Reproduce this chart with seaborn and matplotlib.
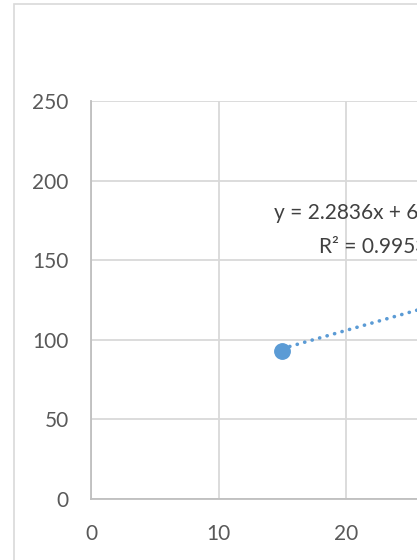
import matplotlib
matplotlib.use("Agg")
import matplotlib.pyplot as plt
import seaborn as sns
import numpy as np
import pandas as pd
from matplotlib.patches import Rectangle

# data (only the first point is visible)
x_vals = [15]
y_vals = [93]
slope = 2.2836
intercept = 60.219
r2 = 0.9953
trend_x = [15, 40]
x_ticks = [0, 10, 20, 30, 40, 50]
y_ticks = [0, 50, 100, 150, 200, 250]

df = pd.DataFrame({'x': x_vals, 'y': y_vals})
trend = pd.DataFrame({'x': trend_x})
trend['y'] = slope * trend['x'] + intercept

sns.set_style("white")
plt.rcParams['font.family'] = ['Lato', 'DejaVu Sans']

W, H = 417, 560
fig = plt.figure(figsize=(W / 100, H / 100), dpi=100)

# chart area border (cut off on the right and bottom)
fig.patches.append(Rectangle((14 / W, -0.2), 2.0, 1.2 - 4 / H, transform=fig.transFigure,
                             fill=False, edgecolor='#D9D9D9', linewidth=1.2))

px_per_unit = 12.75
ax = fig.add_axes([91 / W, 1 - 499 / H, 50 * px_per_unit / W, 398 / H])
ax.set_xlim(0, 50)
ax.set_ylim(0, 250)
ax.set_xticks(x_ticks)
ax.set_yticks(y_ticks)
ax.grid(True, color='#D9D9D9', linewidth=1.3)
ax.set_axisbelow(True)
for side in ['top', 'right']:
    ax.spines[side].set_visible(False)
for side in ['left', 'bottom']:
    ax.spines[side].set_color('#BFBFBF')
    ax.spines[side].set_linewidth(1.3)
ax.tick_params(length=0, labelsize=15, labelcolor='#595959')
ax.tick_params(axis='y', pad=16)
ax.tick_params(axis='x', pad=18)

ax.plot(trend['x'], trend['y'], color='#5B9BD5', linewidth=2.6,
        linestyle=(0, (0.05, 2.1)), dash_capstyle='round', zorder=3)
sns.scatterplot(data=df, x='x', y='y', ax=ax, s=125, color='#5B9BD5',
                edgecolor='#5B9BD5', zorder=4, legend=False)
ax.set_xlabel('')
ax.set_ylabel('')

ax.text(22.1, 169, f'y = {slope}x + {intercept}\nR² = {r2}', ha='center', va='center',
        multialignment='center', fontsize=15, color='#404040', linespacing=1.85)

fig.savefig('out.png', dpi=100)
